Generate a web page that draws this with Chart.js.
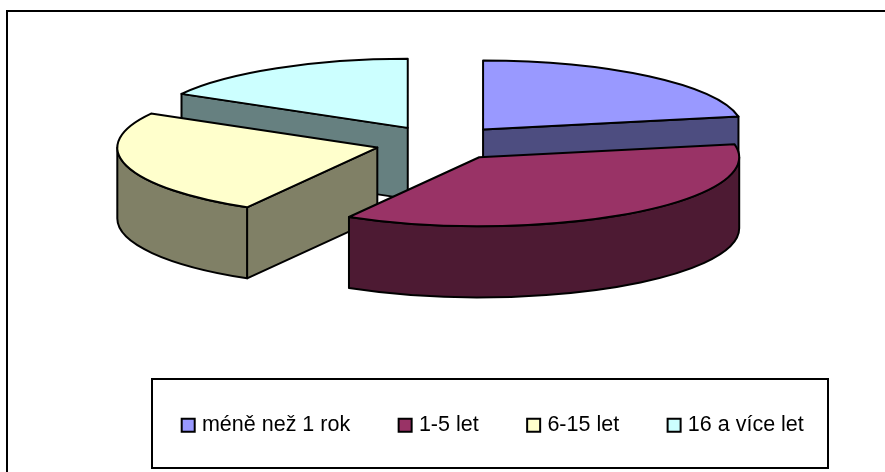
<!DOCTYPE html>
<html>
<head>
<meta charset="utf-8">
<style>
    html, body { margin: 0; padding: 0; background: #fff; }
    canvas { display: block; }
</style>
<script src="https://cdn.jsdelivr.net/npm/chart.js@4"></script>
</head>
<body>
<canvas id="grafico" width="885" height="472"></canvas>
<script>
const categorias = ['méně než 1 rok', '1-5 let', '6-15 let', '16 a více let'];
const valores = [22, 36.35, 24.85, 16.8];
const coresTopo = ['#9999FF', '#993366', '#FFFFCC', '#CCFFFF'];
const coresLateral = ['#4D4D80', '#4D1A33', '#808066', '#668080'];

// pie laid down as a tilted disc, slices pulled out along their middle angle
const pizza3d = {
    id: 'pizza3d',
    beforeDatasetsDraw(chart, args, op) {
        const ctx = chart.ctx;
        const arcos = chart.getDatasetMeta(0).data;

        const ponto = (cx, cy, ang) => [cx + op.rx * Math.cos(ang), cy + op.ry * Math.sin(ang)];

        const fatias = arcos.map((arco, i) => {
            const meio = (arco.startAngle + arco.endAngle) / 2;
            return {
                i,
                ini: arco.startAngle,
                fim: arco.endAngle,
                cx: op.cx + op.explode * Math.cos(meio),
                cy: op.cy + op.explode * (op.ry / op.rx) * Math.sin(meio)
            };
        });

        // back slices first
        fatias.sort((a, b) => a.cy - b.cy);

        ctx.save();
        ctx.lineWidth = op.linha;
        ctx.lineJoin = 'round';
        ctx.strokeStyle = '#000';

        fatias.forEach(f => {
            ctx.fillStyle = coresLateral[f.i];

            // straight cut walls that face the viewer
            [[f.ini, Math.cos(f.ini) < -1e-6], [f.fim, Math.cos(f.fim) > 1e-6]].forEach(([ang, visivel]) => {
                if (!visivel) return;
                const [x, y] = ponto(f.cx, f.cy, ang);
                ctx.beginPath();
                ctx.moveTo(f.cx, f.cy);
                ctx.lineTo(x, y);
                ctx.lineTo(x, y + op.altura);
                ctx.lineTo(f.cx, f.cy + op.altura);
                ctx.closePath();
                ctx.fill();
                ctx.stroke();
            });

            // rim, only the part on the near half of the ellipse
            const de = Math.max(f.ini, 0);
            const ate = Math.min(f.fim, Math.PI);
            if (ate > de) {
                ctx.beginPath();
                ctx.ellipse(f.cx, f.cy, op.rx, op.ry, 0, de, ate);
                ctx.ellipse(f.cx, f.cy + op.altura, op.rx, op.ry, 0, ate, de, true);
                ctx.closePath();
                ctx.fill();
                ctx.stroke();
            }

            // top face
            ctx.fillStyle = coresTopo[f.i];
            ctx.beginPath();
            ctx.moveTo(f.cx, f.cy);
            ctx.ellipse(f.cx, f.cy, op.rx, op.ry, 0, f.ini, f.fim);
            ctx.closePath();
            ctx.fill();
            ctx.stroke();
        });

        ctx.restore();
        return false;
    },
    afterDraw(chart, args, op) {
        const ctx = chart.ctx;
        ctx.save();
        ctx.strokeStyle = '#000';
        ctx.lineWidth = 2;
        ctx.strokeRect(op.moldura.x, op.moldura.y, op.moldura.w, op.moldura.h);
        ctx.strokeRect(op.caixa.x, op.caixa.y, op.caixa.w, op.caixa.h);
        ctx.restore();
    }
};

new Chart(document.getElementById('grafico'), {
    type: 'pie',
    data: {
        labels: categorias,
        datasets: [{
            data: valores,
            backgroundColor: coresTopo,
            borderColor: '#000',
            borderWidth: 2
        }]
    },
    options: {
        responsive: false,
        animation: false,
        events: [],
        layout: { padding: { left: 104, bottom: 26 } },
        plugins: {
            tooltip: { enabled: false },
            legend: {
                position: 'bottom',
                labels: {
                    color: '#000',
                    usePointStyle: true,
                    pointStyle: 'rect',
                    boxWidth: 6,
                    boxHeight: 13,
                    padding: 52,
                    font: { family: 'Liberation Sans', size: 21.5 }
                }
            },
            pizza3d: {
                cx: 441,
                cy: 143,
                rx: 260,
                ry: 69,
                explode: 66,
                altura: 71,
                linha: 2,
                moldura: { x: 7, y: 11, w: 900, h: 470 },
                caixa: { x: 152, y: 379, w: 676, h: 89 }
            }
        }
    },
    plugins: [pizza3d]
});
</script>
</body>
</html>
